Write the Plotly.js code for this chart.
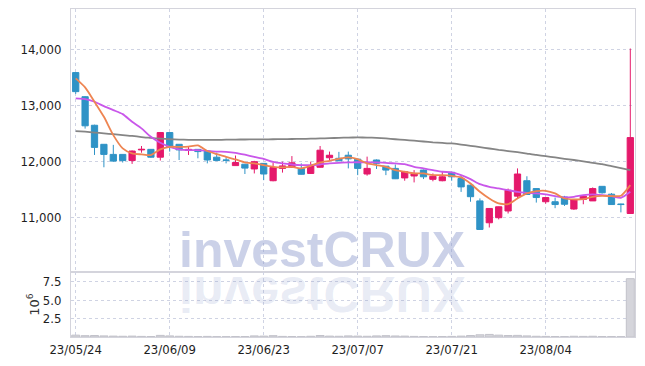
<!DOCTYPE html>
<html>
<head>
<meta charset="utf-8">
<script src="https://cdn.plot.ly/plotly-3.0.1.min.js"></script>
<style>
html,body{margin:0;padding:0;background:#fff;}
#chart{width:645px;height:366px;}
</style>
</head>
<body>
<div id="chart"></div>
<script>
const dates = ['23/05/24','23/05/25','23/05/26','23/05/30','23/05/31','23/06/01','23/06/02','23/06/05','23/06/07','23/06/08',
'23/06/09','23/06/12','23/06/13','23/06/14','23/06/15','23/06/16','23/06/19','23/06/20','23/06/21','23/06/22',
'23/06/23','23/06/26','23/06/27','23/06/28','23/06/29','23/06/30','23/07/03','23/07/04','23/07/05','23/07/06',
'23/07/07','23/07/10','23/07/11','23/07/12','23/07/13','23/07/14','23/07/17','23/07/18','23/07/19','23/07/20',
'23/07/21','23/07/24','23/07/25','23/07/26','23/07/27','23/07/28','23/07/31','23/08/01','23/08/02','23/08/03',
'23/08/04','23/08/07','23/08/08','23/08/09','23/08/10','23/08/11','23/08/14','23/08/16','23/08/17','23/08/18'];

const openP  = [13580,13150,12640,12300,12120,12120,12010,12200,12210,12070,
                12510,12300,12190,12210,12180,12070,12020,11920,11945,11860,
                11960,11650,11870,11890,11870,11780,11890,12060,12050,12105,
                12035,11770,12020,11910,11870,11700,11735,11840,11675,11650,
                11800,11690,11570,11290,10900,10990,11110,11375,11650,11510,
                11275,11275,11360,11145,11315,11290,11550,11410,11235,11065];
const highP  = [13590,13160,12650,12300,12290,12120,12190,12270,12215,12520,
                12510,12300,12270,12210,12190,12150,12070,12100,11950,12005,
                11960,11975,11990,12090,11960,11990,12270,12170,12165,12170,
                12040,12080,12030,11910,11940,11810,11840,11850,11780,11820,
                11800,11750,11580,11335,11160,11190,11510,11870,11730,11510,
                11350,11350,11380,11320,11390,11530,11550,11430,11240,14010];
const lowP   = [13200,12580,12110,11890,11990,11975,11950,12150,12060,12010,
                12170,12020,12110,12050,11960,12000,11960,11915,11770,11780,
                11660,11640,11795,11880,11760,11770,11885,12020,12000,11870,
                11750,11740,11860,11750,11680,11650,11620,11680,11640,11640,
                11650,11450,11275,10780,10815,10960,11065,11335,11400,11260,
                11240,11160,11200,11130,11230,11290,11420,11225,11085,11060];
const closeP = [13240,12630,12245,12120,12000,12010,12180,12210,12070,12510,
                12260,12200,12210,12170,12020,12010,12015,11975,11875,11990,
                11770,11885,11915,11970,11765,11915,12195,12105,12005,12040,
                11870,11870,11960,11840,11685,11810,11780,11720,11730,11720,
                11720,11540,11365,10780,11155,11185,11480,11770,11405,11350,
                11350,11225,11230,11315,11375,11510,11435,11225,11225,12420];

const ma5  = [13477,13316,13059,12791,12464,12227,12137,12120,12107,12209,
              12255,12255,12260,12280,12180,12125,12077,12030,11976,11958,
              11929,11898,11887,11898,11870,11917,11976,12005,12041,12066,
              12036,11958,11929,11898,11839,11810,11780,11780,11750,11750,
              11738,11709,11601,11452,11333,11244,11232,11333,11423,11464,
              11470,11423,11333,11316,11321,11363,11381,11375,11381,11571];
const ma20 = [13119,13107,13059,12982,12911,12839,12702,12584,12434,12327,
              12255,12209,12196,12196,12184,12170,12166,12149,12115,12075,
              12040,11985,11958,11940,11929,11929,11940,11958,11970,11976,
              11980,11980,11976,11970,11958,11946,11898,11870,11839,11810,
              11798,11750,11679,11589,11542,11512,11482,11452,11435,11423,
              11405,11375,11351,11363,11393,11405,11393,11375,11345,11452];
const ma60 = [12536,12525,12510,12495,12480,12465,12450,12430,12415,12400,
              12390,12385,12380,12378,12378,12380,12382,12385,12386,12387,
              12388,12390,12392,12395,12397,12400,12405,12410,12415,12420,
              12422,12420,12415,12405,12390,12378,12365,12350,12335,12325,
              12315,12295,12273,12250,12225,12200,12180,12160,12135,12110,
              12090,12065,12042,12020,11995,11970,11945,11910,11875,11840];
const volume = [250000,180000,200000,150000,120000,100000,120000,80000,70000,220000,
                150000,100000,80000,60000,80000,50000,50000,60000,70000,150000,
                120000,180000,80000,70000,50000,100000,200000,120000,100000,150000,
                120000,100000,150000,180000,140000,120000,80000,60000,50000,70000,
                80000,120000,200000,300000,350000,250000,200000,220000,150000,100000,
                80000,70000,60000,100000,80000,100000,70000,60000,50000,7900000];

const priceTicks = [11000,12000,13000,14000];
const volTicks = [2500000,5000000,7500000];
const volTickText = ['2.5','5.0','7.5'];
const dateTicks = ['23/05/24','23/06/09','23/06/23','23/07/07','23/07/21','23/08/04'];

const UP = '#e5196b', DOWN = '#2f93c6';
const tickFont = {family:'"DejaVu Sans Condensed","Liberation Sans Narrow",sans-serif', size:13, color:'#1e1e1e'};
const gridC = '#cfd3e3', lineC = '#d4d4dc';

const traces = [
  {type:'candlestick', x:dates, open:openP, high:highP, low:lowP, close:closeP,
   xaxis:'x', yaxis:'y',
   increasing:{line:{color:UP,width:1}, fillcolor:UP},
   decreasing:{line:{color:DOWN,width:1}, fillcolor:DOWN},
   hoverinfo:'skip'},
  {type:'scatter', mode:'lines', x:dates, y:ma60, xaxis:'x', yaxis:'y',
   line:{color:'#858585', width:1.8, shape:'spline', smoothing:0.6}, hoverinfo:'skip'},
  {type:'scatter', mode:'lines', x:dates, y:ma20, xaxis:'x', yaxis:'y',
   line:{color:'#c957ea', width:1.8, shape:'spline', smoothing:0.6}, hoverinfo:'skip'},
  {type:'scatter', mode:'lines', x:dates, y:ma5, xaxis:'x', yaxis:'y',
   line:{color:'#ee8552', width:1.8, shape:'spline', smoothing:0.6}, hoverinfo:'skip'},
  {type:'bar', x:dates, y:volume, xaxis:'x2', yaxis:'y2',
   marker:{color:'#d5d5db', line:{color:'#c2c2ca', width:1}}, hoverinfo:'skip'}
];

const wmFont = {family:'"Liberation Sans",Arial,sans-serif', size:50, weight:700};

const layout = {
  width:645, height:366,
  margin:{l:71, r:10, t:9, b:29},
  paper_bgcolor:'#fff', plot_bgcolor:'#fff',
  showlegend:false, hovermode:false,
  boxgap:0.3, boxgroupgap:0.05, bargap:0.15,
  xaxis:{type:'category', categoryorder:'array', categoryarray:dates, anchor:'y',
         range:[-0.5,59.5], rangeslider:{visible:false},
         showticklabels:false, tickvals:dateTicks,
         showgrid:true, gridcolor:gridC, griddash:'dot', gridwidth:1,
         showline:true, linecolor:lineC, linewidth:1, mirror:true, zeroline:false},
  xaxis2:{type:'category', categoryorder:'array', categoryarray:dates, anchor:'y2', matches:'x',
          range:[-0.5,59.5], tickvals:dateTicks, ticktext:dateTicks, tickfont:tickFont,
          showgrid:true, gridcolor:gridC, griddash:'dot', gridwidth:1,
          showline:true, linecolor:lineC, linewidth:1, mirror:true, zeroline:false},
  yaxis:{domain:[0.198,1], range:[10020,14715], tickvals:priceTicks, tickformat:',d',
         tickfont:tickFont, ticklabelstandoff:6,
         showgrid:true, gridcolor:gridC, griddash:'dot', gridwidth:1,
         showline:true, linecolor:lineC, linewidth:1, mirror:true, zeroline:false},
  yaxis2:{domain:[0,0.198], range:[0,8800000], tickvals:volTicks, ticktext:volTickText,
          tickfont:tickFont, ticklabelstandoff:6,
          title:{text:'10<sup>6</sup>', font:{family:'"DejaVu Sans",sans-serif', size:13, color:'#333'}, standoff:0},
          showgrid:true, gridcolor:gridC, griddash:'dot', gridwidth:1,
          showline:true, linecolor:lineC, linewidth:1, mirror:true, zeroline:false},
  annotations:[
    {text:'investCRUX', xref:'paper', yref:'paper', x:0.445, y:0.264, xanchor:'center', yanchor:'middle',
     showarrow:false, font:Object.assign({color:'rgba(140,154,205,0.45)'}, wmFont)},
    {text:'investCRUX', xref:'paper', yref:'paper', x:0.445, y:0.264, xanchor:'center', yanchor:'middle',
     showarrow:false, font:Object.assign({color:'rgba(140,154,205,0.2)'}, wmFont)}
  ]
};

Plotly.newPlot('chart', traces, layout, {staticPlot:true, displayModeBar:false}).then(function(gd){
  const fl = gd._fullLayout;
  const baseY = fl.yaxis._offset + fl.yaxis._length;
  const anns = gd.querySelectorAll('.annotation');
  if (anns.length > 1) {
    anns[1].setAttribute('transform', 'translate(0,' + (2*baseY) + ') scale(1,-1)');
  }
});
</script>
</body>
</html>
